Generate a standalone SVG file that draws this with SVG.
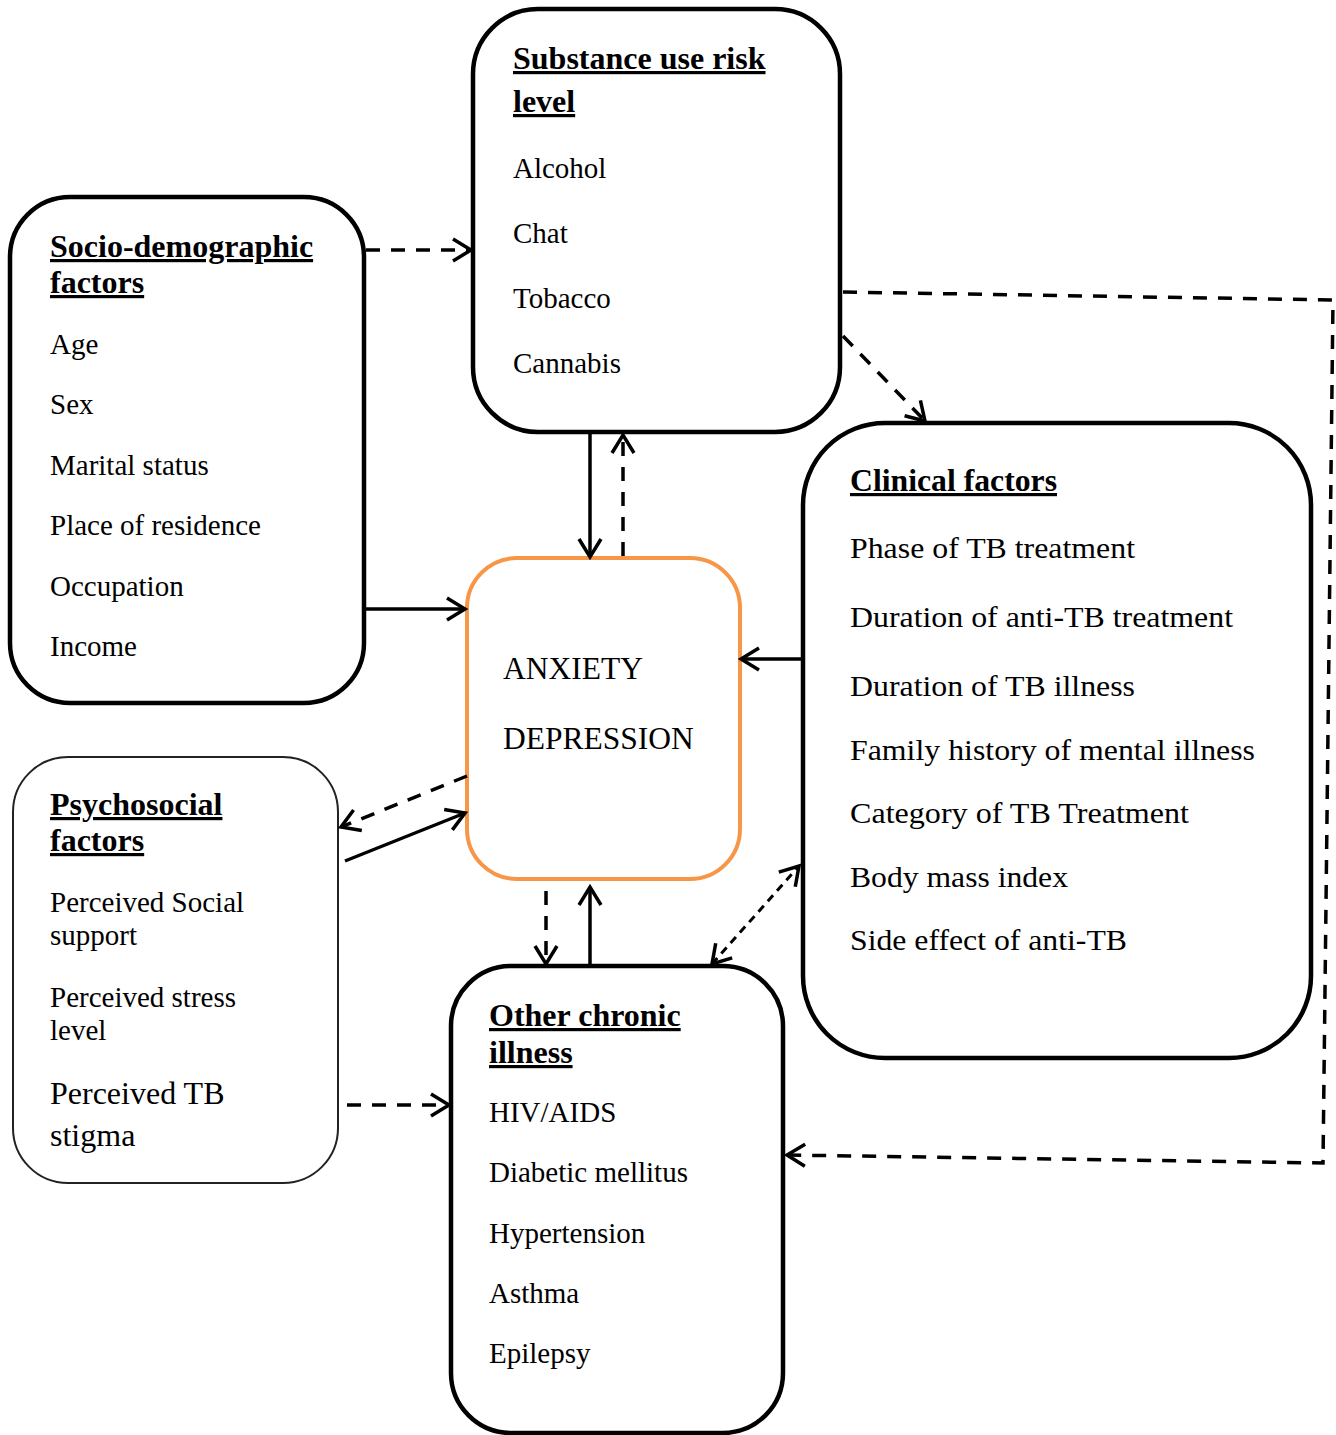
<svg xmlns="http://www.w3.org/2000/svg" width="1336" height="1435" viewBox="0 0 1336 1435">
<style>
.box{fill:#fff;stroke:#000;stroke-width:4.5}
.thin{fill:#fff;stroke:#222;stroke-width:2}
.core{fill:#fff;stroke:#F79646;stroke-width:4}
text{font-family:"Liberation Serif","Times New Roman",serif;fill:#000}
.t{font-size:32px;font-weight:bold;text-decoration:underline;text-decoration-thickness:3px;text-underline-offset:4px}
.i{font-size:29px}
.b{font-size:31.5px}
.c{fill:none;stroke:#000;stroke-width:3.5}
.d{stroke-dasharray:14 11}
.s{stroke-dasharray:8 6;stroke-width:3}
</style>
<defs>
<marker id="ah" markerUnits="userSpaceOnUse" markerWidth="26" markerHeight="28" refX="20" refY="13" orient="auto-start-reverse">
<path d="M2,2 L20,13 L2,24" fill="none" stroke="#000" stroke-width="3.5"/>
</marker>
</defs>
<g id="socio">
<rect class="box" x="10" y="197" width="354" height="506" rx="60"/>
<text class="t" x="50" y="257">Socio-demographic</text>
<text class="t" x="50" y="293">factors</text>
<text class="i" x="50" y="354">Age</text>
<text class="i" x="50" y="414">Sex</text>
<text class="i" x="50" y="475">Marital status</text>
<text class="i" x="50" y="535">Place of residence</text>
<text class="i" x="50" y="596">Occupation</text>
<text class="i" x="50" y="656">Income</text>
</g>
<g id="substance">
<rect class="box" x="473" y="9" width="367" height="423" rx="65"/>
<text class="t" x="513" y="69">Substance use risk</text>
<text class="t" x="513" y="112">level</text>
<text class="i" x="513" y="178">Alcohol</text>
<text class="i" x="513" y="243">Chat</text>
<text class="i" x="513" y="308">Tobacco</text>
<text class="i" x="513" y="373">Cannabis</text>
</g>
<g id="outcome">
<rect class="core" x="467" y="558" width="273" height="321" rx="50"/>
<text class="b" x="503" y="679">ANXIETY</text>
<text class="b" x="503" y="749">DEPRESSION</text>
</g>
<g id="clinical">
<rect class="box" x="803" y="423" width="508" height="635" rx="82"/>
<text class="t" x="850" y="491" textLength="207" lengthAdjust="spacingAndGlyphs">Clinical factors</text>
<text class="i" x="850" y="558" textLength="285" lengthAdjust="spacingAndGlyphs">Phase of TB treatment</text>
<text class="i" x="850" y="627" textLength="383" lengthAdjust="spacingAndGlyphs">Duration of anti-TB treatment</text>
<text class="i" x="850" y="696" textLength="285" lengthAdjust="spacingAndGlyphs">Duration of TB illness</text>
<text class="i" x="850" y="760" textLength="405" lengthAdjust="spacingAndGlyphs">Family history of mental illness</text>
<text class="i" x="850" y="823" textLength="339" lengthAdjust="spacingAndGlyphs">Category of TB Treatment</text>
<text class="i" x="850" y="887" textLength="218" lengthAdjust="spacingAndGlyphs">Body mass index</text>
<text class="i" x="850" y="950" textLength="277" lengthAdjust="spacingAndGlyphs">Side effect of anti-TB</text>
</g>
<g id="psychosocial">
<rect class="thin" x="13" y="757" width="325" height="426" rx="55"/>
<text class="t" x="50" y="815">Psychosocial</text>
<text class="t" x="50" y="851">factors</text>
<text class="i" x="50" y="912">Perceived Social</text>
<text class="i" x="50" y="945">support</text>
<text class="i" x="50" y="1007">Perceived stress</text>
<text class="i" x="50" y="1040">level</text>
<text class="i" x="50" y="1104" style="font-size:32px">Perceived TB</text>
<text class="i" x="50" y="1146" style="font-size:32px">stigma</text>
</g>
<g id="chronic">
<rect class="box" x="451" y="966" width="332" height="467" rx="60"/>
<text class="t" x="489" y="1026">Other chronic</text>
<text class="t" x="489" y="1063">illness</text>
<text class="i" x="489" y="1122">HIV/AIDS</text>
<text class="i" x="489" y="1182">Diabetic mellitus</text>
<text class="i" x="489" y="1243">Hypertension</text>
<text class="i" x="489" y="1303">Asthma</text>
<text class="i" x="489" y="1363">Epilepsy</text>
</g>
<g id="connectors">
<path class="c d" d="M366,250 H471" marker-end="url(#ah)"/>
<path class="c" d="M366,609 H465" marker-end="url(#ah)"/>
<path class="c" d="M590,434 V557" marker-end="url(#ah)"/>
<path class="c d" d="M623,556 V435" marker-end="url(#ah)"/>
<path class="c d" d="M843,336 L925,421" marker-end="url(#ah)"/>
<path class="c d" d="M843,292 L1333,300 L1323,1163 L787,1155" marker-end="url(#ah)"/>
<path class="c" d="M801,659 H741" marker-end="url(#ah)"/>
<path class="c d" d="M467,776 L341,827" marker-end="url(#ah)"/>
<path class="c" d="M345,861 L465,813" marker-end="url(#ah)"/>
<path class="c d" d="M546,891 V964" marker-end="url(#ah)"/>
<path class="c" d="M590,966 V887" marker-end="url(#ah)"/>
<path class="c s" d="M712,964 L799,866" marker-start="url(#ah)" marker-end="url(#ah)"/>
<path class="c d" d="M347,1105 H449" marker-end="url(#ah)"/>
</g>
</svg>
